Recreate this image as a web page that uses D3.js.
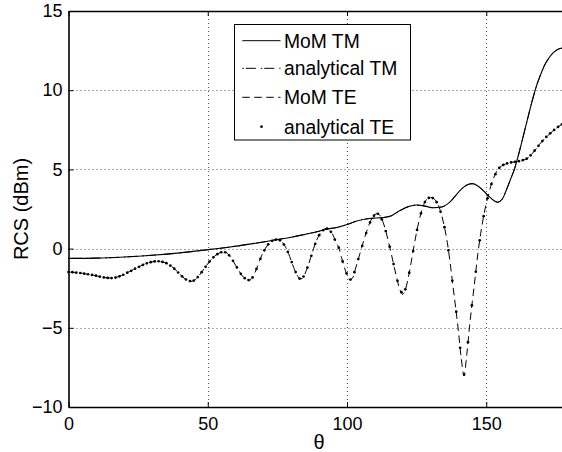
<!DOCTYPE html>
<html>
<head>
<meta charset="utf-8">
<script src="https://cdn.jsdelivr.net/npm/d3@7"></script>
<style>
  html, body { margin: 0; padding: 0; background: #fff; }
  svg { display: block; }
  text { font-family: "Liberation Sans", Arial, Helvetica, sans-serif; fill: #000; }
</style>
</head>
<body>
<svg id="chart" width="562" height="452"></svg>
<script>
// ---------------- data ----------------
const xTicks = [0, 50, 100, 150];
const yTicks = [-10, -5, 0, 5, 10, 15];
const legendLabels = ["MoM TM", "analytical TM", "MoM TE", "analytical TE"];

// MoM TM (solid)
const tmTheta = [0, 10, 20, 30, 40, 50, 58, 65, 70, 75, 80, 85, 90, 93, 96, 100, 103.5, 108, 113, 116, 119, 122, 125, 128, 131, 134, 137, 140, 142, 144, 145, 147, 149, 151, 153, 154, 155, 156, 157, 158, 159, 160, 161, 162, 163, 164, 165, 166, 167, 168, 169, 170, 171, 172, 173, 174, 175, 176, 177, 178, 180];
const momTM = [-0.62, -0.60, -0.53, -0.42, -0.27, -0.07, 0.10, 0.28, 0.42, 0.57, 0.72, 0.90, 1.10, 1.25, 1.32, 1.52, 1.74, 1.90, 1.96, 2.08, 2.40, 2.65, 2.75, 2.68, 2.58, 2.63, 2.95, 3.55, 3.90, 4.08, 4.10, 3.95, 3.65, 3.30, 3.00, 2.93, 3.00, 3.20, 3.60, 4.05, 4.50, 4.95, 5.55, 6.20, 6.90, 7.60, 8.30, 9.00, 9.65, 10.25, 10.75, 11.20, 11.60, 11.90, 12.15, 12.35, 12.50, 12.60, 12.65, 12.68, 12.70];
// analytical TM (dash-dot) lies on top of the MoM TM curve
const analyticalTM = [-0.62, -0.60, -0.53, -0.42, -0.27, -0.07, 0.10, 0.28, 0.42, 0.57, 0.72, 0.90, 1.10, 1.25, 1.32, 1.52, 1.74, 1.90, 1.96, 2.08, 2.40, 2.65, 2.75, 2.68, 2.58, 2.63, 2.95, 3.55, 3.90, 4.08, 4.10, 3.95, 3.65, 3.30, 3.00, 2.93, 3.00, 3.20, 3.60, 4.05, 4.50, 4.95, 5.55, 6.20, 6.90, 7.60, 8.30, 9.00, 9.65, 10.25, 10.75, 11.20, 11.60, 11.90, 12.15, 12.35, 12.50, 12.60, 12.65, 12.68, 12.70];

// MoM TE (dashed), one value per degree 0..180
const momTE = [
 -1.48, -1.49, -1.50, -1.52, -1.54, -1.56, -1.59, -1.62, -1.65, -1.68,
 -1.72, -1.76, -1.80, -1.83, -1.85, -1.86, -1.85, -1.82, -1.77, -1.70,
 -1.62, -1.53, -1.44, -1.35, -1.26, -1.17, -1.09, -1.01, -0.94, -0.88,
 -0.84, -0.81, -0.80, -0.81, -0.85, -0.91, -1.00, -1.12, -1.27, -1.44,
 -1.62, -1.79, -1.93, -2.03, -2.07, -2.02, -1.88, -1.68, -1.45, -1.20,
 -0.96, -0.74, -0.55, -0.40, -0.29, -0.22, -0.21, -0.30, -0.48, -0.75,
 -1.05, -1.35, -1.62, -1.83, -1.96, -2.00, -1.85, -1.50, -1.05, -0.60,
 -0.20, 0.10, 0.33, 0.48, 0.56, 0.57, 0.52, 0.35, 0.08, -0.30,
 -0.78, -1.25, -1.65, -1.90, -1.88, -1.55, -1.10, -0.55, 0.00, 0.50,
 0.85, 1.10, 1.24, 1.26, 1.12, 0.85, 0.40, 0.08, -0.55, -1.15,
 -1.65, -1.98, -1.85, -1.30, -0.70, -0.10, 0.50, 1.05, 1.55, 1.92,
 2.15, 2.21, 2.05, 1.65, 1.05, 0.35, -0.40, -1.20, -1.95, -2.60,
 -2.89, -2.55, -1.85, -0.90, 0.10, 1.05, 1.85, 2.50, 2.95, 3.18,
 3.23, 3.18, 3.00, 2.65, 2.10, 1.35, 0.40, -0.85, -2.30, -3.70,
 -5.20, -6.90, -8.00, -6.70, -4.90, -3.35, -1.85, -0.30, 0.95, 2.00,
 2.85, 3.55, 4.15, 4.60, 4.95, 5.15, 5.27, 5.35, 5.40, 5.44,
 5.47, 5.50, 5.53, 5.57, 5.63, 5.72, 5.90, 6.10, 6.32, 6.55,
 6.76, 6.95, 7.12, 7.28, 7.44, 7.58, 7.71, 7.83, 7.94, 8.03,
 8.10
];
const momTETheta = momTE.map((_, i) => i);

// analytical TE (dots), sampled every 180/128 degrees
const analyticalTE = [
 -1.48, -1.49, -1.52, -1.54, -1.58, -1.62, -1.66, -1.71, -1.77, -1.82,
 -1.85, -1.86, -1.83, -1.75, -1.65, -1.52, -1.40, -1.27, -1.15, -1.03,
 -0.93, -0.86, -0.81, -0.80, -0.84, -0.92, -1.07, -1.27, -1.51, -1.75,
 -1.95, -2.05, -2.02, -1.80, -1.49, -1.15, -0.82, -0.55, -0.35, -0.23,
 -0.23, -0.42, -0.77, -1.19, -1.59, -1.87, -1.99, -1.82, -1.28, -0.64,
 -0.11, 0.27, 0.49, 0.57, 0.52, 0.26, -0.21, -0.85, -1.48, -1.89,
 -1.76, -1.20, -0.45, 0.30, 0.85, 1.16, 1.26, 1.06, 0.57, 0.06,
 -0.81, -1.57, -1.95, -1.49, -0.66, 0.18, 0.98, 1.65, 2.08, 2.20,
 1.85, 1.11, 0.12, -0.98, -2.03, -2.75, -2.57, -1.52, -0.15, 1.18,
 2.22, 2.94, 3.20, 3.19, 2.93, 2.32, 1.35, -0.11, -2.03, -3.98,
 -6.26, -7.96, -5.91, -3.58, -1.46, 0.52, 2.05, 3.18, 4.08, 4.70,
 5.09, 5.28, 5.38, 5.44, 5.48, 5.52, 5.58, 5.68, 5.89, 6.18,
 6.49, 6.79, 7.05, 7.28, 7.49, 7.68, 7.85, 7.99, 8.10
];
const teStep = 180 / 128;
const analyticalTETheta = analyticalTE.map((_, i) => i * teStep);

// ---------------- drawing ----------------
const svg = d3.select("#chart");
const x = d3.scaleLinear().domain([0, 180]).range([68.5, 569.8]);
const y = d3.scaleLinear().domain([-10, 15]).range([407, 11]);

// grid
const grid = svg.append("g").attr("stroke", "#555").attr("stroke-width", 1).attr("stroke-dasharray", "1,3");
grid.selectAll("line.gx").data(xTicks.filter(d => d !== 0)).join("line")
  .attr("x1", d => Math.round(x(d)) + 0.5).attr("x2", d => Math.round(x(d)) + 0.5)
  .attr("y1", y(15)).attr("y2", y(-10));
grid.selectAll("line.gy").data(yTicks.filter(d => d !== -10 && d !== 15)).join("line")
  .attr("class", "gy")
  .attr("x1", x(0)).attr("x2", x(180))
  .attr("y1", d => Math.round(y(d)) + 0.5).attr("y2", d => Math.round(y(d)) + 0.5);

// curves
const lineTM = d3.line().x(d => x(d[0])).y(d => y(d[1])).curve(d3.curveMonotoneX);
const lineTE = d3.line().x(d => x(d[0])).y(d => y(d[1])).curve(d3.curveCatmullRom.alpha(0.5));

svg.append("path")
  .datum(tmTheta.map((t, i) => [t, analyticalTM[i]]))
  .attr("d", lineTM).attr("fill", "none").attr("stroke", "#000").attr("stroke-width", 1)
  .attr("stroke-dasharray", "1.5,2,10,5");

svg.append("path")
  .datum(momTETheta.map((t, i) => [t, momTE[i]]))
  .attr("d", lineTE).attr("fill", "none").attr("stroke", "#000").attr("stroke-width", 1)
  .attr("stroke-dasharray", "7.5,4.5");

svg.append("g").selectAll("circle")
  .data(analyticalTETheta.map((t, i) => [t, analyticalTE[i]]))
  .join("circle")
  .attr("cx", d => x(d[0])).attr("cy", d => y(d[1])).attr("r", 1.35).attr("fill", "#000");

svg.append("path")
  .datum(tmTheta.map((t, i) => [t, momTM[i]]))
  .attr("d", lineTM).attr("fill", "none").attr("stroke", "#000").attr("stroke-width", 1.1);

// axes
const axB = svg.append("g").attr("transform", `translate(0,${y(-10)})`)
  .call(d3.axisBottom(x).tickValues(xTicks).tickSizeInner(-5).tickSizeOuter(0).tickPadding(10).tickFormat(d3.format("d")));
const axT = svg.append("g").attr("transform", `translate(0,${y(15)})`)
  .call(d3.axisTop(x).tickValues(xTicks).tickSizeInner(-5).tickSizeOuter(0).tickFormat(""));
const axL = svg.append("g").attr("transform", `translate(${x(0)},0)`)
  .call(d3.axisLeft(y).tickValues(yTicks).tickSizeInner(-5).tickSizeOuter(0).tickPadding(6).tickFormat(d3.format("d")));

[axB, axT, axL].forEach(g => {
  g.select(".domain").attr("stroke", "#000").attr("stroke-width", 1.6);
  g.selectAll(".tick line").attr("stroke", "#000").attr("stroke-width", 1);
  g.selectAll(".tick text").attr("font-size", 18).attr("font-family", "Liberation Sans, Arial, sans-serif").attr("fill", "#000");
});

// axis labels
svg.append("text").attr("x", x(90)).attr("y", 449).attr("text-anchor", "middle")
  .attr("font-size", 20).text("θ");
svg.append("text").attr("transform", `translate(27.7,${(y(15) + y(-10)) / 2}) rotate(-90)`)
  .attr("text-anchor", "middle").attr("font-size", 20).text("RCS (dBm)");

// legend
const leg = svg.append("g");
leg.append("rect").attr("x", 234.5).attr("y", 24.5).attr("width", 176).attr("height", 115.5)
  .attr("fill", "#fff").attr("stroke", "#000").attr("stroke-width", 1);
const legY = [40.7, 68.3, 97.3, 126.7];
const dashes = [null, "1.5,2,10,5", "7.5,4.5", "dot"];
legendLabels.forEach((lab, i) => {
  if (dashes[i] === "dot") {
    leg.append("circle").attr("cx", 261.5).attr("cy", legY[i]).attr("r", 1.35).attr("fill", "#000");
  } else {
    const l = leg.append("line").attr("x1", 242.3).attr("x2", 280.5).attr("y1", legY[i]).attr("y2", legY[i])
      .attr("stroke", "#000").attr("stroke-width", 1);
    if (dashes[i]) l.attr("stroke-dasharray", dashes[i]);
  }
  leg.append("text").attr("x", 284).attr("y", legY[i]).attr("dy", "0.36em")
    .attr("font-size", 19.3).text(lab);
});
</script>
</body>
</html>
